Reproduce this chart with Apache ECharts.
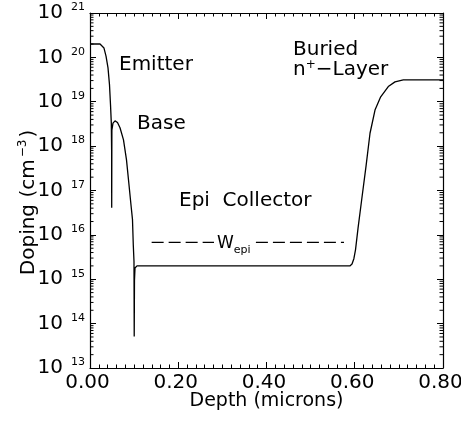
<!DOCTYPE html>
<html>
<head>
<meta charset="utf-8">
<script src="https://cdn.jsdelivr.net/npm/echarts@6/dist/echarts.min.js"></script>
<style>
  html, body { margin: 0; padding: 0; background: #fff; }
  #chart { width: 461px; height: 422px; }
</style>
</head>
<body>
<div id="chart"></div>
<script>
// Net doping profile of a bipolar transistor: emitter, base, epi collector, buried n+ layer
const depth = [
  0.0, 0.0227, 0.0272, 0.0317, 0.0363, 0.0408, 0.0442, 0.0465, 0.0483, 0.0490, 0.0492,
  0.0496, 0.0521, 0.0567, 0.0623, 0.0680, 0.0759, 0.0827, 0.0884, 0.0929, 0.0963, 0.0981, 0.0997,
  0.1002, 0.1008, 0.1020, 0.1065,
  0.589, 0.5938, 0.598, 0.6017, 0.6074, 0.6157, 0.6255, 0.6346, 0.6459, 0.6588, 0.676, 0.6912, 0.710, 0.80
];
const doping = [
  2.0e20, 2.0e20, 1.9e20, 1.62e20, 1.07e20, 5.8e19, 2.4e19, 8.5e18, 3.3e18, 8.1e17, 4.1e16,
  2.3e18, 3.3e18, 3.7e18, 3.4e18, 2.6e18, 1.38e18, 4.9e17, 1.33e17, 4.7e16, 2.2e16, 5.9e15, 2.5e15,
  5.1e13, 9.5e14, 1.8e15, 2.0e15,
  2.0e15, 2.2e15, 2.9e15, 4.6e15, 1.4e16, 6.2e16, 3.5e17, 1.95e18, 6.5e18, 1.29e19, 2.2e19, 2.8e19, 3.1e19, 3.1e19
];

// Epi width marker (dashed, broken around its label)
const wepiLeftDepth = [0.1397, 0.281];
const wepiRightDepth = [0.376, 0.5756];
const wepiLevel = 6.8e15;

// Axis ranges and tick labels
const xTicks = [0.0, 0.2, 0.4, 0.6, 0.8];
const yDecades = [13, 14, 15, 16, 17, 18, 19, 20, 21];

// Logarithmic minor ticks (2..9 within each decade)
const yMinor = [];
for (let i = 0; i < yDecades.length - 1; i++) {
  for (let k = 2; k <= 9; k++) yMinor.push(k * Math.pow(10, yDecades[i]));
}

const FONT = 'DejaVu Sans';
const profile = depth.map((d, i) => [d, doping[i]]);

const chart = echarts.init(document.getElementById('chart'), null, { renderer: 'canvas' });

const xAxisBase = {
  type: 'value',
  min: xTicks[0],
  max: xTicks[xTicks.length - 1],
  interval: 0.2,
  axisLine: { show: true, onZero: false, lineStyle: { color: '#000', width: 1.2 } },
  axisTick: { show: true, inside: true, length: 6, lineStyle: { color: '#000', width: 1 } },
  minorTick: { show: true, splitNumber: 10, length: 3.5, lineStyle: { color: '#000', width: 1 } },
  splitLine: { show: false },
  minorSplitLine: { show: false }
};

const yAxisBase = {
  type: 'log',
  logBase: 10,
  min: Math.pow(10, yDecades[0]),
  max: Math.pow(10, yDecades[yDecades.length - 1]),
  splitNumber: 8,
  axisLine: { show: true, onZero: false, lineStyle: { color: '#000', width: 1.2 } },
  axisTick: { show: true, inside: true, length: 6, lineStyle: { color: '#000', width: 1 } },
  splitLine: { show: false }
};

chart.setOption({
  animation: false,
  backgroundColor: '#fff',
  grid: { left: 90, right: 18, top: 13, bottom: 54, outerBoundsMode: 'none', containLabel: false },
  xAxis: [
    Object.assign({}, xAxisBase, {
      position: 'bottom',
      name: 'Depth (microns)',
      nameLocation: 'middle',
      nameGap: 24,
      nameMoveOverlap: false,
      nameTextStyle: { fontFamily: FONT, fontSize: 19, color: '#000', verticalAlign: 'top' },
      axisLabel: {
        show: true, margin: 5, color: '#000', fontFamily: FONT, fontSize: 20,
        padding: [0, 5, 0, 0],
        formatter: v => v.toFixed(2)
      }
    }),
    Object.assign({}, xAxisBase, { position: 'top', axisLabel: { show: false } })
  ],
  yAxis: [
    Object.assign({}, yAxisBase, {
      position: 'left',
      name: '{n|Doping (cm}{s|−3}{n|)}',
      nameLocation: 'middle',
      nameRotate: 90,
      nameGap: 51,
      nameMoveOverlap: false,
      nameTextStyle: {
        padding: [0, 24, 0, 0],
        rich: {
          n: { fontFamily: FONT, fontSize: 20, color: '#000', lineHeight: 22, verticalAlign: 'bottom' },
          s: { fontFamily: FONT, fontSize: 12, color: '#000', lineHeight: 22, verticalAlign: 'top', padding: [0, 2, 0, 2] }
        }
      },
      axisLabel: {
        show: true, margin: 5,
        formatter: v => '{b|10}{s|' + Math.round(Math.log10(v)) + '}',
        rich: {
          b: { fontFamily: FONT, fontSize: 20, color: '#000', lineHeight: 22 },
          s: { fontFamily: FONT, fontSize: 11, color: '#000', lineHeight: 11, verticalAlign: 'top', padding: [0, 0, 0, 8] }
        }
      }
    }),
    Object.assign({}, yAxisBase, { position: 'right', axisLabel: { show: false } })
  ],
  graphic: [
    { type: 'text', x: 119, y: 65, style: { text: 'Emitter', font: '20px ' + FONT, fill: '#000', verticalAlign: 'middle' } },
    { type: 'text', x: 137, y: 124, style: { text: 'Base', font: '20px ' + FONT, fill: '#000', verticalAlign: 'middle' } },
    { type: 'text', x: 179, y: 201, style: { text: 'Epi  Collector', font: '20px ' + FONT, fill: '#000', verticalAlign: 'middle' } },
    { type: 'text', x: 293, y: 50, style: { text: 'Buried', font: '20px ' + FONT, fill: '#000', verticalAlign: 'middle' } },
    {
      type: 'text', x: 293, y: 70,
      style: {
        text: '{n|n}{p|+}{n|−Layer}', verticalAlign: 'middle',
        rich: {
          n: { fontFamily: FONT, fontSize: 20, fill: '#000', lineHeight: 22 },
          p: { fontFamily: FONT, fontSize: 12, fill: '#000', lineHeight: 12, verticalAlign: 'top' }
        }
      }
    },
    {
      type: 'text', x: 217, y: 244,
      style: {
        text: '{w|W}{e|epi}', verticalAlign: 'middle',
        rich: {
          w: { fontFamily: FONT, fontSize: 17, fill: '#000', lineHeight: 24 },
          e: { fontFamily: FONT, fontSize: 11, fill: '#000', lineHeight: 12, verticalAlign: 'bottom' }
        }
      }
    }
  ],
  series: [
    {
      type: 'line',
      data: profile,
      xAxisIndex: 0, yAxisIndex: 0,
      showSymbol: false,
      smooth: false,
      lineStyle: { color: '#000', width: 1.3 },
      silent: true
    },
    {
      type: 'line',
      data: wepiLeftDepth.map(d => [d, wepiLevel]),
      showSymbol: false,
      lineStyle: { color: '#000', width: 1.2, type: [12, 5] },
      silent: true
    },
    {
      type: 'line',
      data: wepiRightDepth.map(d => [d, wepiLevel]),
      showSymbol: false,
      lineStyle: { color: '#000', width: 1.2, type: [12, 5] },
      silent: true
    },
    {
      type: 'custom',
      xAxisIndex: 0, yAxisIndex: 0,
      data: yMinor.map(v => [xTicks[0], v]),
      encode: { x: 0, y: 1 },
      silent: true,
      clip: false,
      renderItem: function (params, api) {
        const v = api.value(1);
        const l = api.coord([xTicks[0], v]);
        const r = api.coord([xTicks[xTicks.length - 1], v]);
        const st = { stroke: '#000', lineWidth: 1 };
        return {
          type: 'group',
          children: [
            { type: 'line', shape: { x1: l[0], y1: l[1], x2: l[0] + 3.5, y2: l[1] }, style: st },
            { type: 'line', shape: { x1: r[0], y1: r[1], x2: r[0] - 3.5, y2: r[1] }, style: st }
          ]
        };
      }
    }
  ]
});
</script>
</body>
</html>
